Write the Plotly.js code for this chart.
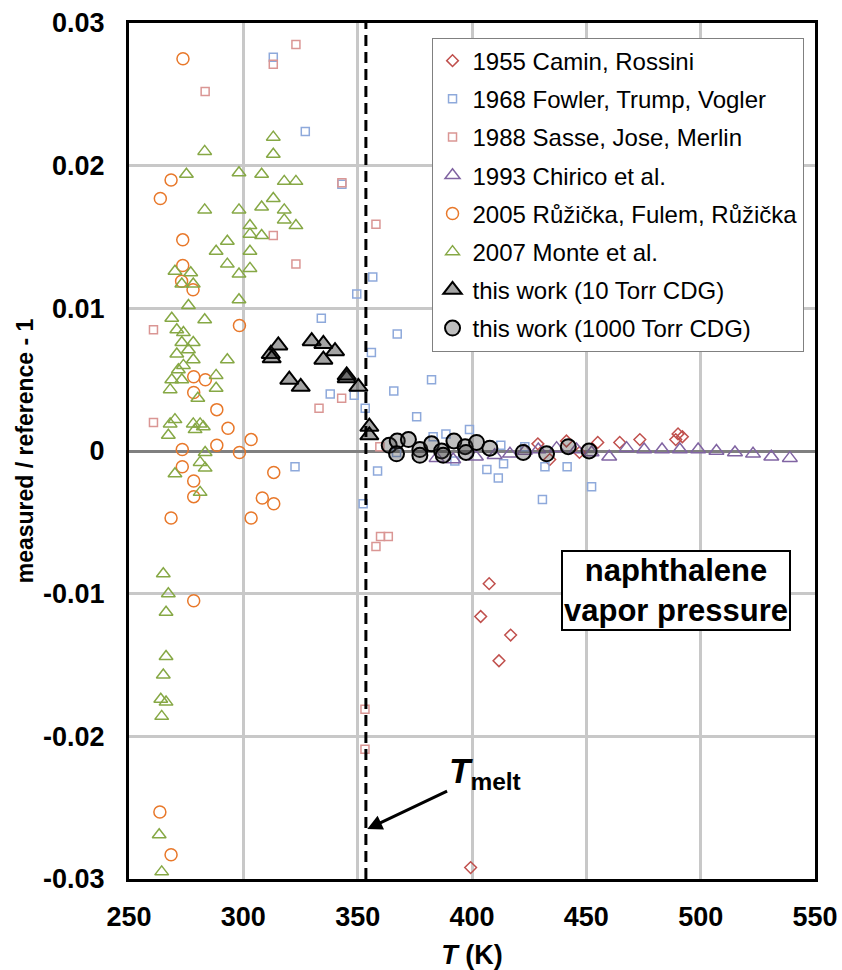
<!DOCTYPE html>
<html>
<head>
<meta charset="utf-8">
<script src="https://cdn.plot.ly/plotly-3.0.1.min.js"></script>
<style>html,body{margin:0;padding:0;background:#fff;}#chart{width:842px;height:970px;}</style>
</head>
<body>
<div id="chart"></div>
<script>
// ---- Data (T in K, measured/reference - 1) ----
const caminT = [399.4, 403.8, 407.5, 411.8, 416.9, 428.8, 434.0, 441.3, 447.0, 455.0, 464.6, 473.4, 489.1, 490.1, 492.0];
const caminV = [-0.0292, -0.0116, -0.0093, -0.0147, -0.0129, 0.0005, -0.0006, 0.0007, -0.0001, 0.0006, 0.0006, 0.0008, 0.0008, 0.0012, 0.0010];

const fowlerT = [313.1, 327.1, 343.1, 356.6, 349.6, 334.1, 356.0, 367.3, 382.3, 338.0, 348.5, 353.3, 365.8, 375.8, 398.9, 388.6, 383.0, 412.6, 423.1, 367.0, 392.5, 358.7, 406.5, 411.5, 413.8, 431.9, 441.6, 452.3, 430.8, 352.4, 322.6];
const fowlerV = [0.0276, 0.0224, 0.0187, 0.0122, 0.0110, 0.0093, 0.0069, 0.0082, 0.0050, 0.0040, 0.0039, 0.0030, 0.0042, 0.0024, 0.0015, 0.0012, 0.0010, 0.0004, 0.0003, -0.0001, -0.0007, -0.0014, -0.0013, -0.0019, -0.0009, -0.0011, -0.0011, -0.0025, -0.0034, -0.0037, -0.0011];

const sasseT = [323.0, 313.1, 283.3, 343.1, 358.0, 313.1, 323.0, 260.7, 343.0, 333.1, 260.7, 359.7, 358.0, 360.0, 363.4, 353.2, 353.2];
const sasseV = [0.0285, 0.0271, 0.0252, 0.0188, 0.0159, 0.0151, 0.0131, 0.0085, 0.0037, 0.0030, 0.0020, 0.0003, -0.0067, -0.0060, -0.0060, -0.0181, -0.0209];

const chiricoT = [384.5, 391.8, 401.7, 409.9, 416.6, 423.1, 429.0, 437.0, 445.7, 452.3, 460.0, 467.6, 475.3, 483.1, 490.9, 498.9, 506.9, 515.0, 522.9, 530.9, 539.0];
const chiricoV = [-0.0005, -0.0006, -0.0004, -0.0003, -0.0002, 0.0000, 0.0001, 0.0002, 0.0001, -0.0001, -0.0004, 0.0002, 0.0001, 0.0001, 0.0001, 0.0001, 0.0000, -0.0001, -0.0002, -0.0004, -0.0005];

const ruzickaT = [273.6, 263.7, 268.4, 273.5, 273.5, 273.0, 278.0, 298.3, 278.3, 283.4, 278.3, 288.4, 293.3, 303.4, 273.3, 288.4, 298.3, 273.3, 278.3, 278.3, 268.4, 313.3, 308.3, 313.3, 303.4, 278.3, 263.5, 268.4];
const ruzickaV = [0.0275, 0.0177, 0.0190, 0.0148, 0.0130, 0.0119, 0.0113, 0.0088, 0.0052, 0.0050, 0.0041, 0.0029, 0.0016, 0.0008, 0.0001, 0.0004, -0.0001, -0.0011, -0.0021, -0.0032, -0.0047, -0.0015, -0.0033, -0.0037, -0.0047, -0.0105, -0.0253, -0.0283];

const monteT = [283.1, 313.1, 313.1, 275.1, 298.1, 308.0, 317.9, 323.0, 313.1, 283.1, 298.1, 308.0, 317.9, 317.9, 323.0,
  302.9, 302.9, 308.0, 293.0, 288.1, 302.9, 293.0, 298.1, 302.9, 270.1, 277.0, 273.1, 278.1, 298.1, 276.0,
  268.7, 283.1, 270.9, 273.8, 273.1, 278.1, 276.0, 270.9, 278.1, 293.0, 273.8, 271.6, 268.7, 273.1, 288.1,
  268.0, 288.1, 280.1, 270.1, 268.0, 278.1, 281.1, 267.2, 278.9, 282.5,
  283.3, 281.1, 283.3, 270.1, 281.1, 265.0, 267.2, 266.2, 266.2, 265.0, 263.9, 266.2, 264.3, 263.2, 264.3];
const monteV = [0.0210, 0.0220, 0.0208, 0.0194, 0.0195, 0.0194, 0.0189, 0.0189, 0.0177, 0.0169, 0.0169, 0.0171, 0.0169, 0.0162, 0.0158,
  0.0158, 0.0152, 0.0151, 0.0147, 0.0140, 0.0140, 0.0131, 0.0124, 0.0128, 0.0126, 0.0125, 0.0117, 0.0117, 0.0106, 0.0102,
  0.0093, 0.0092, 0.0085, 0.0083, 0.0076, 0.0076, 0.0071, 0.0068, 0.0064, 0.0064, 0.0060, 0.0057, 0.0050, 0.0050, 0.0053,
  0.0043, 0.0044, 0.0037, 0.0022, 0.0019, 0.0019, 0.0019, 0.0011, 0.0015, 0.0017,
  -0.0001, -0.0008, -0.0012, -0.0016, -0.0029, -0.0086, -0.0100, -0.0113, -0.0144, -0.0157, -0.0174, -0.0176, -0.0186, -0.0269, -0.0295];

const work10T = [312.0, 312.4, 315.3, 329.9, 335.0, 340.1, 335.0, 320.1, 325.1, 345.2, 345.2, 350.3, 355.1, 355.1];
const work10V = [0.0068, 0.0065, 0.0074, 0.0077, 0.0075, 0.0070, 0.0064, 0.0050, 0.0045, 0.0051, 0.0053, 0.0045, 0.0017, 0.0011];

const work1000T = [363.8, 367.3, 372.2, 367.0, 377.2, 377.2, 382.3, 386.7, 387.4, 392.1, 397.0, 397.4, 402.0, 407.8, 422.4, 432.6, 442.1, 451.2];
const work1000V = [0.0004, 0.0007, 0.0008, -0.0002, 0.0001, -0.0003, 0.0005, 0.0000, -0.0003, 0.0007, 0.0003, -0.0001, 0.0006, 0.0002, -0.0001, -0.0002, 0.0003, 0.0000];

const seriesNames = ['1955 Camin, Rossini', '1968 Fowler, Trump, Vogler', '1988 Sasse, Jose, Merlin', '1993 Chirico et al.',
  '2005 Růžička, Fulem, Růžička', '2007 Monte et al.', 'this work (10 Torr CDG)', 'this work (1000 Torr CDG)'];
const xTicks = [250, 300, 350, 400, 450, 500, 550];
const yTicks = [-0.03, -0.02, -0.01, 0, 0.01, 0.02, 0.03];
const yTickText = ['-0.03', '-0.02', '-0.01', '0', '0.01', '0.02', '0.03'];
const Tmelt = 353.6;

function openTrace(x, y, name, symbol, color, size, lw, grp) {
  return {x: x, y: y, name: name, type: 'scatter', mode: 'markers', legendgroup: grp,
    marker: {symbol: symbol, size: size, color: color, line: {color: color, width: lw}}};
}

const traces = [
  openTrace(caminT, caminV, seriesNames[0], 'diamond-open', '#C0504D', 9, 1.5, 'g1'),
  openTrace(fowlerT, fowlerV, seriesNames[1], 'square-open', '#8EA9DB', 8, 1.5, 'g2'),
  openTrace(sasseT, sasseV, seriesNames[2], 'square-open', '#DA9694', 8, 1.5, 'g3'),
  openTrace(chiricoT, chiricoV, seriesNames[3], 'triangle-up-open', '#8064A2', 13, 1.5, 'g4'),
  openTrace(ruzickaT, ruzickaV, seriesNames[4], 'circle-open', '#E8782A', 12, 1.5, 'g5'),
  openTrace(monteT, monteV, seriesNames[5], 'triangle-up-open', '#86A845', 12, 1.5, 'g6'),
  {x: work10T, y: work10V, name: seriesNames[6], type: 'scatter', mode: 'markers', legendgroup: 'g7',
    marker: {symbol: 'triangle-up', size: 16, color: 'rgba(35,35,35,0.41)', line: {color: '#000', width: 2}}},
  {x: work1000T, y: work1000V, name: seriesNames[7], type: 'scatter', mode: 'markers', legendgroup: 'g8',
    marker: {symbol: 'circle', size: 15, color: 'rgba(60,60,60,0.33)', line: {color: '#000', width: 2}}}
];

const layout = {
  width: 842, height: 970,
  margin: {l: 129, r: 27, t: 23, b: 91},
  paper_bgcolor: '#fff', plot_bgcolor: '#fff',
  font: {family: 'Liberation Sans, Arial, sans-serif', color: '#000'},
  showlegend: true,
  legend: {x: 0.441, y: 0.983, xanchor: 'left', yanchor: 'top',
    bgcolor: '#fff', bordercolor: '#808080', borderwidth: 1,
    font: {size: 24, family: 'Liberation Sans, Arial, sans-serif', color: '#000'},
    traceorder: 'grouped', tracegroupgap: 4, itemsizing: 'trace'},
  xaxis: {range: [250, 550], tickvals: xTicks, ticktext: xTicks.map(v => '<b>' + v + '</b>'),
    tickfont: {size: 27, family: 'Liberation Sans, Arial, sans-serif'},
    showgrid: true, gridcolor: '#C8C8C8', gridwidth: 3, zeroline: false,
    showline: true, linecolor: '#000', linewidth: 3, mirror: true, ticks: '', ticklabelstandoff: 12,
    title: {text: '<b><i>T</i> (K)</b>', font: {size: 27}, standoff: 14}},
  yaxis: {range: [-0.03, 0.03], tickvals: yTicks, ticktext: yTickText.map(s => '<b>' + s + '</b>'),
    tickfont: {size: 27, family: 'Liberation Sans, Arial, sans-serif'},
    showgrid: true, gridcolor: '#C8C8C8', gridwidth: 3,
    zeroline: true, zerolinecolor: '#808080', zerolinewidth: 3,
    showline: true, linecolor: '#000', linewidth: 3, mirror: true, ticks: '', ticklabelstandoff: 16,
    title: {text: '<b>measured / reference - 1</b>', font: {size: 23}, standoff: 4}},
  shapes: [
    {type: 'line', xref: 'x', yref: 'paper', x0: Tmelt, x1: Tmelt, y0: 0, y1: 1,
      line: {color: '#000', width: 3, dash: '11px,6px'}}
  ],
  annotations: [
    {xref: 'x', yref: 'y', x: 489.1, y: -0.0098, text: '<b>naphthalene<br>vapor pressure</b>',
      showarrow: false, font: {size: 31, color: '#000'}, align: 'center',
      bgcolor: '#fff', bordercolor: '#000', borderwidth: 2, borderpad: 1},
    {xref: 'x', yref: 'y', x: 354.2, y: -0.0265, axref: 'x', ayref: 'y', ax: 405.5, ay: -0.0226,
      text: '<b><i>T</i></b><sub><b>melt</b></sub>', font: {size: 35, color: '#000'},
      showarrow: true, arrowhead: 2, arrowsize: 1, arrowwidth: 3, arrowcolor: '#000', standoff: 0}
  ]
};

Plotly.newPlot('chart', traces, layout, {displayModeBar: false, staticPlot: true});
</script>
</body>
</html>
